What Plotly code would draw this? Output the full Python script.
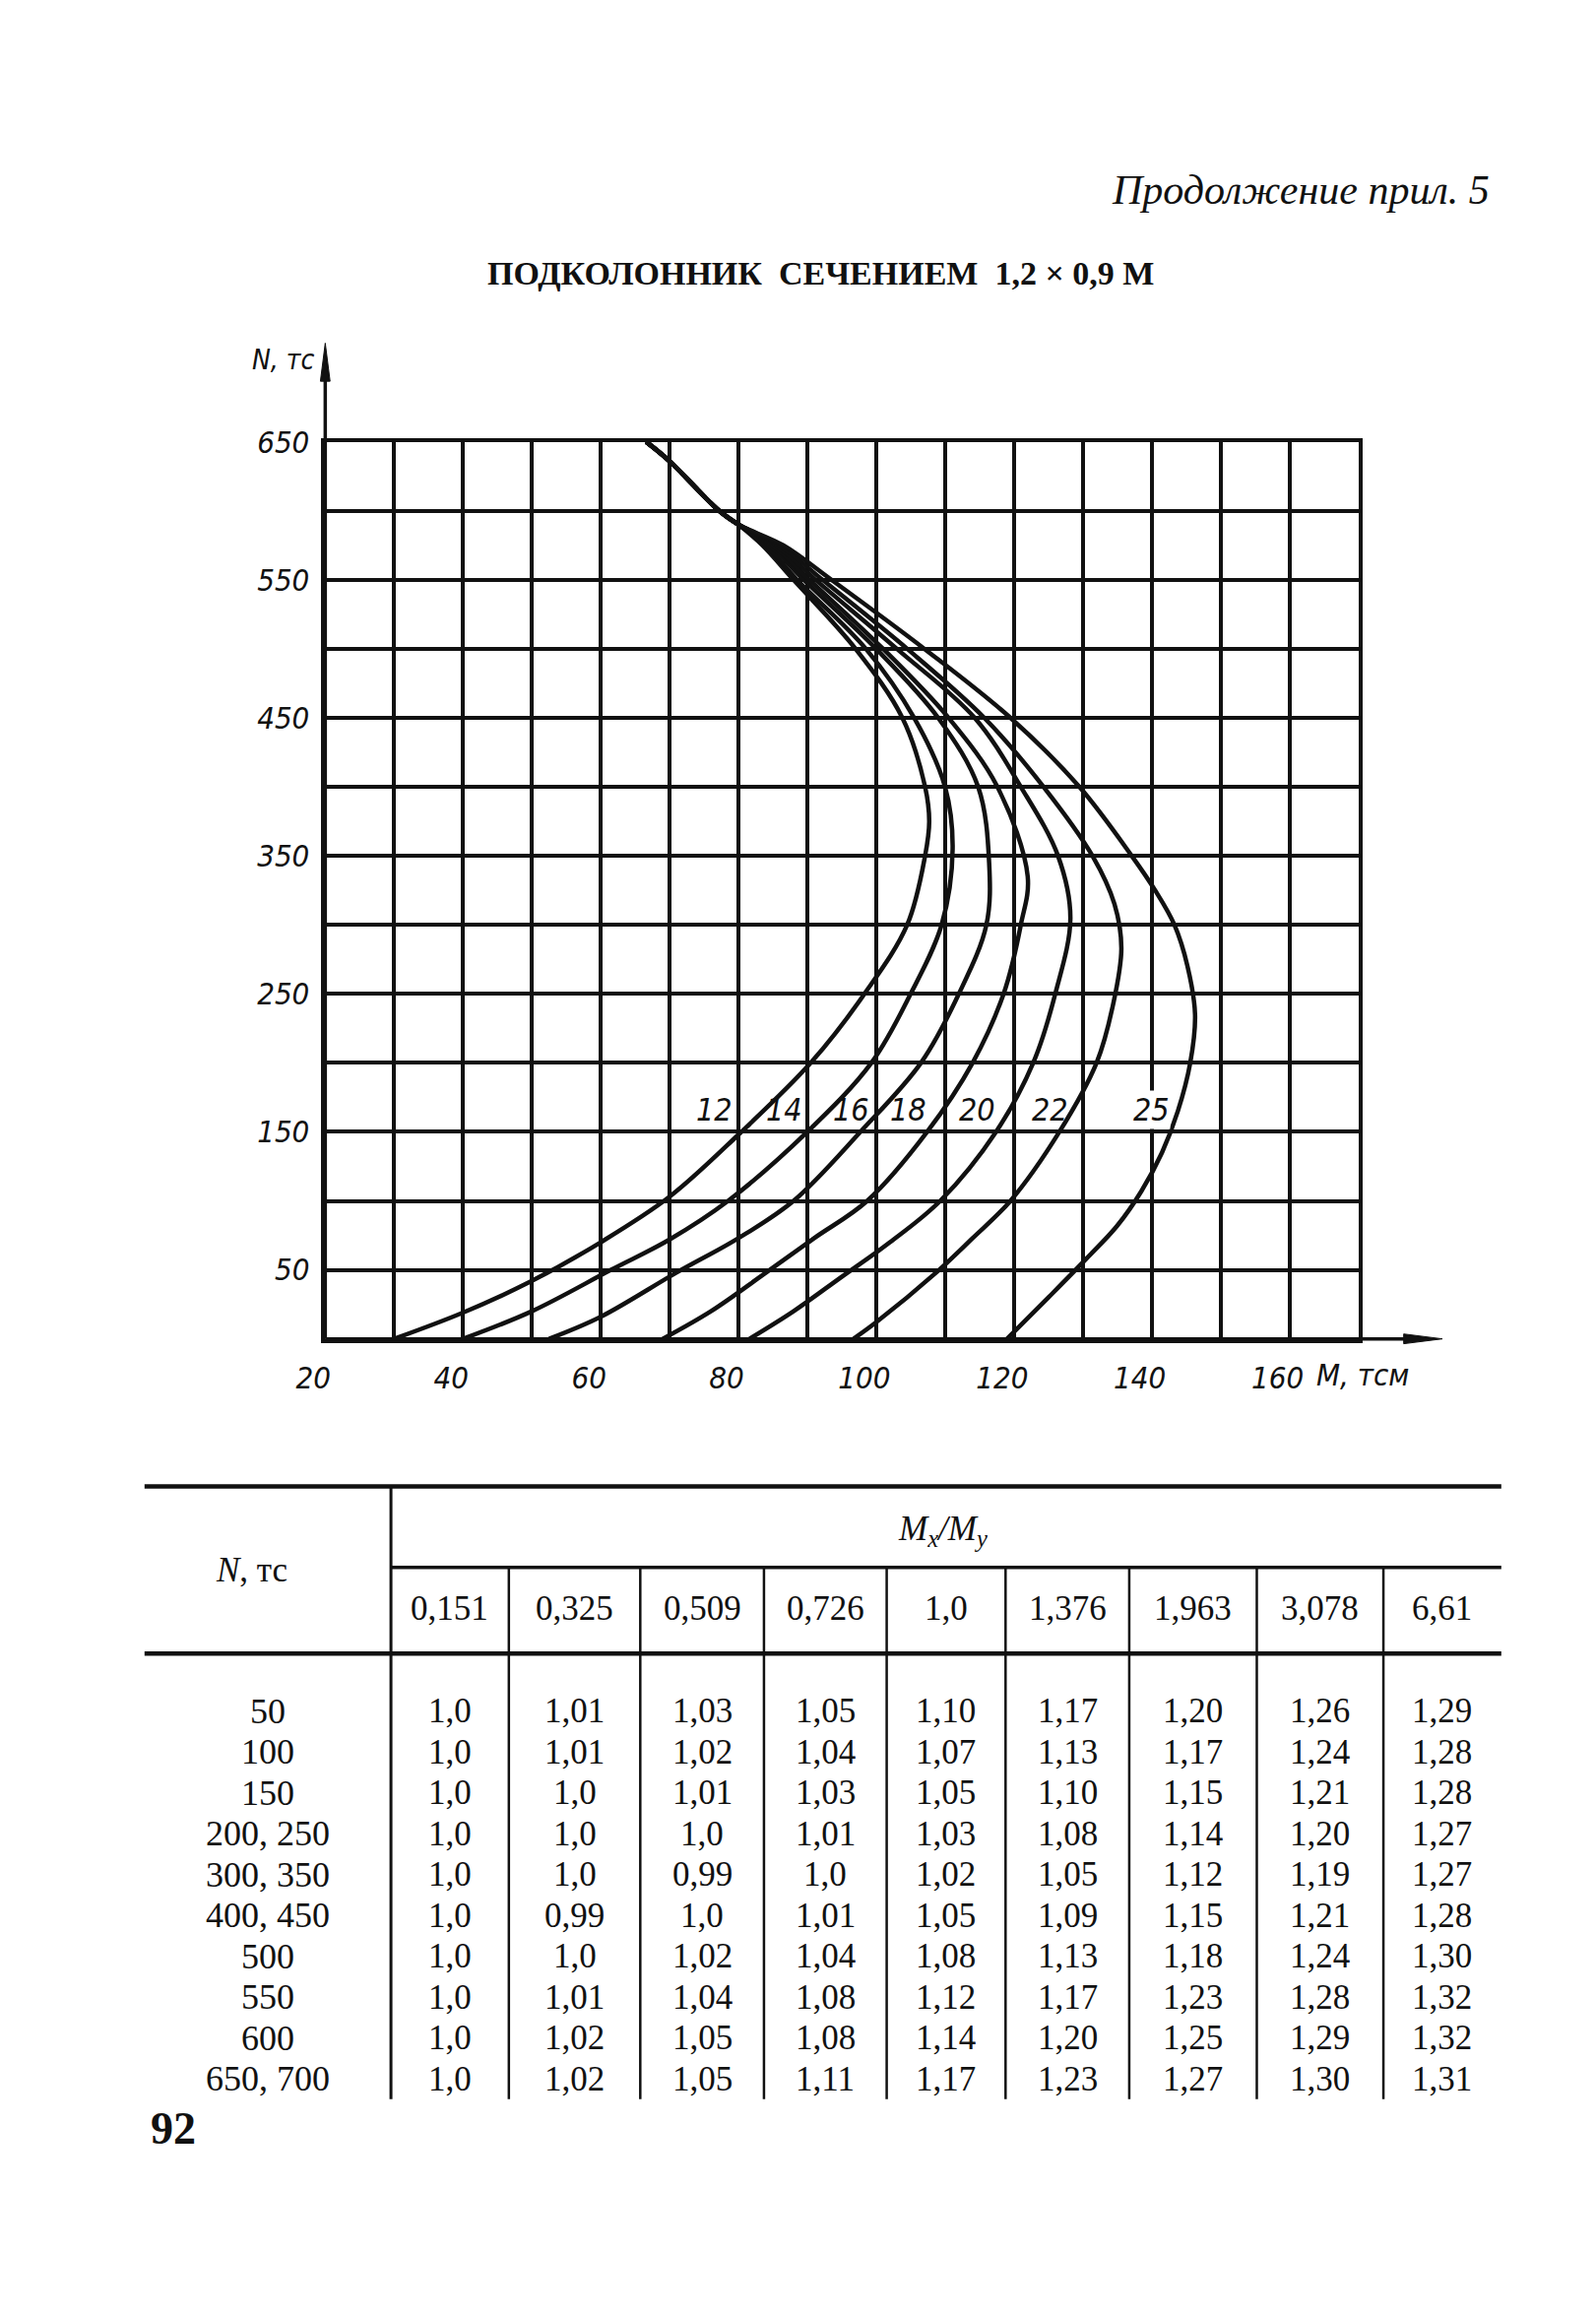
import plotly.graph_objects as go

W, H = 1621, 2354

# ---------------- chart data (M, тсм ; N, тс) ----------------
curve_labels = ["12", "14", "16", "18", "20", "22", "25"]

m_12 = [30, 40, 50, 60, 70, 80, 90.5, 98.3, 104.5, 107.1, 107.7, 107.1, 103.8, 97, 88, 83.5, 80, 77.2, 70, 66.6]
n_12 = [0, 19, 42, 70, 103, 148, 200, 250, 300, 350, 375, 400, 450, 500, 550, 575, 590, 600, 636, 650]

m_14 = [40, 50, 61.5, 70, 78.5, 90, 99.3, 105, 109.5, 111.1, 110, 105.5, 98.5, 88.5, 84, 80, 77.2, 70, 66.6]
n_14 = [0, 20, 50, 72, 100, 150, 200, 250, 300, 355, 400, 450, 500, 550, 575, 590, 600, 636, 650]

m_16 = [52.5, 60, 71, 80, 88, 97.7, 106.5, 112, 116, 116.4, 114.8, 109, 100, 89.5, 84.5, 80, 77.2, 70, 66.6]
n_16 = [0, 16, 48, 73, 100, 150, 200, 250, 300, 345, 400, 450, 500, 550, 575, 590, 600, 636, 650]

m_18 = [69, 76, 84, 91, 98.7, 107.4, 114, 118.5, 121, 122, 117.6, 110.5, 101, 90.3, 85, 80, 77.2, 70, 66.6]
n_18 = [0, 20, 48, 73, 100, 150, 200, 250, 300, 335, 400, 450, 500, 550, 575, 590, 600, 636, 650]

m_20 = [81.6, 88, 95, 102, 109.3, 117.4, 122.8, 126, 128.2, 126.4, 121, 114.3, 103, 91.2, 85.5, 80, 77.2, 70, 66.6]
n_20 = [0, 20, 45, 70, 100, 150, 200, 250, 305, 350, 400, 450, 500, 550, 575, 590, 600, 636, 650]

m_22 = [96.7, 100, 108.7, 114, 119.5, 126.6, 132, 134.3, 135.6, 134.6, 131.4, 124.3, 115.7, 104.5, 92.2, 86, 80, 77.2, 70, 66.6]
n_22 = [0, 12, 48, 73, 100, 150, 200, 240, 283, 315, 350, 400, 450, 500, 550, 575, 590, 600, 636, 650]

m_25 = [119, 125, 130.5, 135, 138.5, 141.5, 143.8, 145.6, 146.3, 145.2, 143.3, 140.5, 137.1, 129.5, 119.5, 107, 93.5, 86.5, 80, 77.2, 70, 66.6]
n_25 = [0, 30, 58, 82, 107, 135, 165, 200, 235, 270, 300, 325, 350, 400, 450, 500, 550, 575, 590, 600, 636, 650]

curves_m = [m_12, m_14, m_16, m_18, m_20, m_22, m_25]
curves_n = [n_12, n_14, n_16, n_18, n_20, n_22, n_25]

x_tick_vals = [20, 40, 60, 80, 100, 120, 140, 160]
y_tick_vals = [50, 150, 250, 350, 450, 550, 650]

# where the curve numbers are written (annotation positions, M and N)
label_pos_m = [76.5, 86.7, 96.3, 104.6, 114.6, 125.2, 140.0]
label_pos_n = 166

# ---------------- table data ----------------
table_ratio_header = ["0,151", "0,325", "0,509", "0,726", "1,0", "1,376", "1,963", "3,078", "6,61"]
table_row_labels = ["50", "100", "150", "200, 250", "300, 350", "400, 450", "500", "550", "600", "650, 700"]
t_50 = ["1,0", "1,01", "1,03", "1,05", "1,10", "1,17", "1,20", "1,26", "1,29"]
t_100 = ["1,0", "1,01", "1,02", "1,04", "1,07", "1,13", "1,17", "1,24", "1,28"]
t_150 = ["1,0", "1,0", "1,01", "1,03", "1,05", "1,10", "1,15", "1,21", "1,28"]
t_200_250 = ["1,0", "1,0", "1,0", "1,01", "1,03", "1,08", "1,14", "1,20", "1,27"]
t_300_350 = ["1,0", "1,0", "0,99", "1,0", "1,02", "1,05", "1,12", "1,19", "1,27"]
t_400_450 = ["1,0", "0,99", "1,0", "1,01", "1,05", "1,09", "1,15", "1,21", "1,28"]
t_500 = ["1,0", "1,0", "1,02", "1,04", "1,08", "1,13", "1,18", "1,24", "1,30"]
t_550 = ["1,0", "1,01", "1,04", "1,08", "1,12", "1,17", "1,23", "1,28", "1,32"]
t_600 = ["1,0", "1,02", "1,05", "1,08", "1,14", "1,20", "1,25", "1,29", "1,32"]
t_650_700 = ["1,0", "1,02", "1,05", "1,11", "1,17", "1,23", "1,27", "1,30", "1,31"]
table_rows = [t_50, t_100, t_150, t_200_250, t_300_350, t_400_450, t_500, t_550, t_600, t_650_700]


def px_x(p):
    return p / W


def px_y(p):
    return 1 - p / H


INK = "#111111"
SANS = "Liberation Sans Narrow, DejaVu Sans Condensed, Liberation Sans, sans-serif"
SERIF = "Liberation Serif, Times New Roman, serif"

fig = go.Figure()

for lab, ms, ns in zip(curve_labels, curves_m, curves_n):
    fig.add_trace(go.Scatter(x=ms, y=ns, mode="lines", name=lab,
                             line=dict(color=INK, width=4.5, shape="spline", smoothing=1.0),
                             hoverinfo="skip", showlegend=False))

# plot area in pixels
PL, PR, PT, PB = 306, 1375, 434, 1352

fig.update_layout(
    width=W, height=H,
    margin=dict(l=0, r=0, t=0, b=0),
    paper_bgcolor="white", plot_bgcolor="white",
    showlegend=False,
    xaxis=dict(domain=[px_x(PL), px_x(PR)], range=[20, 170],
               tickmode="array", tickvals=x_tick_vals, ticktext=[str(v) for v in x_tick_vals],
               showgrid=True, gridcolor=INK, gridwidth=3.5,
               minor=dict(dtick=10, tick0=0, showgrid=True, gridcolor=INK, gridwidth=3.5),
               showline=True, mirror=True, linecolor=INK, linewidth=3.5,
               zeroline=False, ticks="",
               ticklabelstandoff=9, ticklabelshift=-12,
               tickfont=dict(family=SANS, size=31, color=INK, style="italic")),
    yaxis=dict(domain=[px_y(PB), px_y(PT)], range=[0, 650],
               tickmode="array", tickvals=y_tick_vals, ticktext=[str(v) for v in y_tick_vals],
               showgrid=True, gridcolor=INK, gridwidth=3.5,
               minor=dict(dtick=50, tick0=0, showgrid=True, gridcolor=INK, gridwidth=3.5),
               showline=True, mirror=True, linecolor=INK, linewidth=3.5,
               zeroline=False, ticks="",
               ticklabelstandoff=6,
               tickfont=dict(family=SANS, size=31, color=INK, style="italic")),
)

shapes = []
# axis extensions and arrowheads
shapes.append(dict(type="line", xref="paper", yref="paper",
                   x0=px_x(PL), y0=px_y(PB), x1=px_x(1430), y1=px_y(PB),
                   line=dict(color=INK, width=3.5)))
shapes.append(dict(type="line", xref="paper", yref="paper",
                   x0=px_x(PL), y0=px_y(PB), x1=px_x(PL), y1=px_y(365),
                   line=dict(color=INK, width=3.5)))
shapes.append(dict(type="path", xref="paper", yref="paper",
                   path=f"M {px_x(1462)} {px_y(PB)} L {px_x(1422)} {px_y(PB - 5)} L {px_x(1422)} {px_y(PB + 5)} Z",
                   fillcolor=INK, line=dict(color=INK, width=1)))
shapes.append(dict(type="path", xref="paper", yref="paper",
                   path=f"M {px_x(PL)} {px_y(333)} L {px_x(PL - 5)} {px_y(372)} L {px_x(PL + 5)} {px_y(372)} Z",
                   fillcolor=INK, line=dict(color=INK, width=1)))

annotations = []
# axis titles
annotations.append(dict(xref="paper", yref="paper", x=px_x(298), y=px_y(350),
                        text="N, тс", showarrow=False, xanchor="right", yanchor="middle",
                        font=dict(family=SANS, size=28, color=INK, style="italic")))
annotations.append(dict(xref="paper", yref="paper", x=px_x(1330), y=px_y(1389),
                        text="M, тсм", showarrow=False, xanchor="left", yanchor="middle",
                        font=dict(family=SANS, size=31, color=INK, style="italic")))

for lab, lm in zip(curve_labels, label_pos_m):
    annotations.append(dict(xref="x", yref="y", x=lm, y=label_pos_n,
                            text=lab, showarrow=False, xanchor="center", yanchor="middle",
                            bgcolor="white" if lab == "25" else "rgba(0,0,0,0)", borderpad=0,
                            font=dict(family=SANS, size=32, color=INK, style="italic")))

# page header texts
annotations.append(dict(xref="paper", yref="paper", x=px_x(1513), y=px_y(176),
                        text="Продолжение прил. 5", showarrow=False, xanchor="right", yanchor="middle",
                        font=dict(family=SERIF, size=42, color=INK, style="italic")))
annotations.append(dict(xref="paper", yref="paper", x=px_x(819), y=px_y(261),
                        text="<b>ПОДКОЛОННИК  СЕЧЕНИЕМ  1,2 × 0,9 М</b>", showarrow=False,
                        xanchor="center", yanchor="middle",
                        font=dict(family=SERIF, size=34, color=INK)))

# ---------------- table ----------------
T_LEFT, T_RIGHT = 119, 1523
T_TOP, T_MID, T_HEAD_BOTTOM, T_BOTTOM = 1503, 1586, 1674, 2130
col_seps = [374, 496, 632, 760, 887, 1010, 1138, 1270, 1401, 1523]
FIRST_SEP = col_seps[0]
col_centers = [(a + b) / 2 for a, b in zip(col_seps[:-1], col_seps[1:])]
row_y0, row_step = 1733, 41.8

for y, x0, w in [(T_TOP, T_LEFT, 4.5), (T_HEAD_BOTTOM, T_LEFT, 4.5), (T_MID, FIRST_SEP, 3.5)]:
    shapes.append(dict(type="line", xref="paper", yref="paper",
                       x0=px_x(x0), y0=px_y(y), x1=px_x(T_RIGHT), y1=px_y(y),
                       line=dict(color=INK, width=w)))
shapes.append(dict(type="line", xref="paper", yref="paper",
                   x0=px_x(FIRST_SEP), y0=px_y(T_TOP), x1=px_x(FIRST_SEP), y1=px_y(T_BOTTOM),
                   line=dict(color=INK, width=3)))
for xs in col_seps[1:-1]:
    shapes.append(dict(type="line", xref="paper", yref="paper",
                       x0=px_x(xs), y0=px_y(T_MID), x1=px_x(xs), y1=px_y(T_BOTTOM),
                       line=dict(color=INK, width=2.5)))

TFONT = dict(family=SERIF, size=35, color=INK)
annotations.append(dict(xref="paper", yref="paper", x=px_x(230), y=px_y(1589),
                        text="<i>N</i>, тс", showarrow=False, xanchor="center", yanchor="middle",
                        font=TFONT))
annotations.append(dict(xref="paper", yref="paper", x=px_x(945), y=px_y(1548),
                        text="<i>M<sub>x</sub>/M<sub>y</sub></i>", showarrow=False,
                        xanchor="center", yanchor="middle", font=TFONT))
for cx, txt in zip(col_centers, table_ratio_header):
    annotations.append(dict(xref="paper", yref="paper", x=px_x(cx), y=px_y(1628),
                            text=txt, showarrow=False, xanchor="center", yanchor="middle",
                            font=TFONT))
for i, (rl, vals) in enumerate(zip(table_row_labels, table_rows)):
    ry = row_y0 + i * row_step
    annotations.append(dict(xref="paper", yref="paper", x=px_x(247), y=px_y(ry),
                            text=rl, showarrow=False, xanchor="center", yanchor="middle",
                            font=dict(family=SERIF, size=36, color=INK)))
    for cx, v in zip(col_centers, vals):
        annotations.append(dict(xref="paper", yref="paper", x=px_x(cx), y=px_y(ry),
                                text=v, showarrow=False, xanchor="center", yanchor="middle",
                                font=TFONT))

annotations.append(dict(xref="paper", yref="paper", x=px_x(149), y=px_y(2160),
                        text="<b>92</b>", showarrow=False, xanchor="center", yanchor="middle",
                        font=dict(family=SERIF, size=46, color=INK)))

fig.update_layout(shapes=shapes, annotations=annotations)

fig.write_html("out.html", config={"displayModeBar": False},
               post_script="document.body.style.margin='0';document.body.style.overflow='hidden';")
